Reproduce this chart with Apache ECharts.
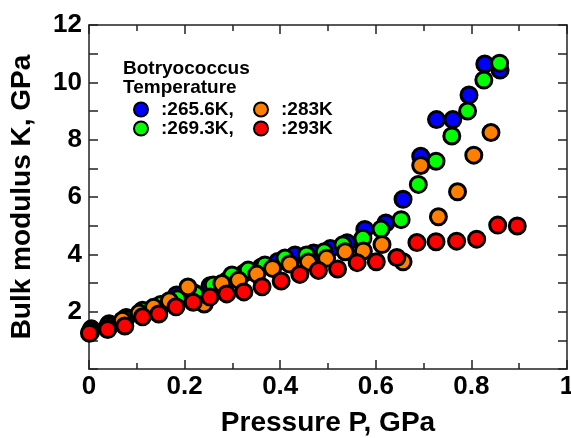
<!DOCTYPE html>
<html>
<head>
<meta charset="utf-8">
<script src="https://cdn.jsdelivr.net/npm/echarts@6/dist/echarts.min.js"></script>
<style>html,body{margin:0;padding:0;background:#fff}#c{width:571px;height:438px}</style>
</head>
<body>
<div id="c"></div>
<script>
// Data: [pressure GPa, bulk modulus GPa]
var blue2656 = [[0.005,1.40],[0.042,1.58],[0.078,1.80],[0.115,2.00],[0.150,2.20],[0.183,2.58],[0.220,2.65],[0.253,2.90],[0.290,3.10],[0.325,3.35],[0.360,3.55],[0.395,3.75],[0.431,3.98],[0.470,4.05],[0.505,4.20],[0.540,4.40],[0.577,4.87],[0.621,5.09],[0.657,5.92],[0.694,7.42],[0.727,8.70],[0.761,8.70],[0.795,9.56],[0.828,10.64],[0.860,10.43]];
var green2693 = [[0.003,1.32],[0.040,1.52],[0.077,1.75],[0.112,2.05],[0.150,2.25],[0.185,2.45],[0.222,2.62],[0.260,2.93],[0.299,3.28],[0.333,3.45],[0.368,3.63],[0.410,3.87],[0.455,3.98],[0.492,4.09],[0.531,4.33],[0.573,4.56],[0.611,4.88],[0.653,5.21],[0.689,6.44],[0.726,7.25],[0.759,8.13],[0.792,9.00],[0.826,10.08],[0.859,10.67]];
var orange283 = [[0.003,1.28],[0.040,1.42],[0.070,1.70],[0.105,1.95],[0.135,2.15],[0.168,2.38],[0.207,2.86],[0.241,2.27],[0.278,2.98],[0.313,3.10],[0.351,3.31],[0.384,3.51],[0.420,3.66],[0.459,3.73],[0.497,3.86],[0.536,4.09],[0.574,4.12],[0.613,4.34],[0.657,3.74],[0.694,7.10],[0.731,5.31],[0.771,6.18],[0.805,7.46],[0.841,8.25]];
var red293 = [[0.001,1.25],[0.039,1.38],[0.075,1.50],[0.112,1.82],[0.146,1.92],[0.182,2.17],[0.218,2.33],[0.253,2.51],[0.288,2.62],[0.324,2.69],[0.362,2.87],[0.402,3.07],[0.441,3.30],[0.480,3.44],[0.520,3.49],[0.561,3.71],[0.601,3.74],[0.644,3.89],[0.686,4.41],[0.726,4.44],[0.769,4.46],[0.811,4.53],[0.855,5.02],[0.896,4.99]];
var seriesNames = [':265.6K,', ':269.3K,', ':283K', ':293K'];
var seriesColors = ['#0000ff', '#00ff00', '#ff8000', '#ff0000'];
var legendTitle = 'Botryococcus\nTemperature';
var xTitle = 'Pressure P, GPa';
var yTitle = 'Bulk modulus K, GPa';

var FONT = 'Liberation Sans, Arial, Helvetica, sans-serif';
var chart = echarts.init(document.getElementById('c'), null, {renderer: 'canvas'});
var datasets = [blue2656, green2693, orange283, red293];
var axisCol = '#222';
function mkSeries(i) {
  return {
    name: seriesNames[i], type: 'scatter', data: datasets[i],
    symbol: 'circle', symbolSize: 16,
    itemStyle: {color: seriesColors[i], borderColor: '#000', borderWidth: 3, opacity: 1},
    emphasis: {disabled: true}, z: 2 + i
  };
}
var legendPos = [[133, 100], [133, 119], [253, 100], [253, 119]];
var legends = legendPos.map(function (p, i) {
  return {
    data: [seriesNames[i]], left: p[0], top: p[1], padding: 0,
    itemWidth: 30, itemHeight: 14, icon: 'circle',
    textStyle: {fontFamily: FONT, fontWeight: 'bold', fontSize: 19, color: '#000'},
    selectedMode: false
  };
});
var common = {
  min: 0, axisLine: {show: true, onZero: false, lineStyle: {color: axisCol, width: 1.5}},
  splitLine: {show: false}
};
chart.setOption({
  animation: false,
  backgroundColor: '#fff',
  grid: {left: 89, top: 25, right: 4, bottom: 69, containLabel: false, outerBoundsMode: 'none'},
  legend: legends,
  graphic: [{
    type: 'text', left: 123, top: 59,
    style: {text: legendTitle, font: 'bold 19px ' + FONT, fill: '#000', lineHeight: 19.5}
  }],
  xAxis: [
    Object.assign({}, common, {
      type: 'value', max: 1, interval: 0.2, position: 'bottom',
      name: xTitle, nameLocation: 'middle', nameGap: 40,
      nameTextStyle: {fontFamily: FONT, fontWeight: 'bold', fontSize: 28, color: '#000'},
      axisTick: {show: true, inside: true, length: 9, lineStyle: {color: axisCol, width: 1.5}},
      minorTick: {show: true, splitNumber: 2, length: 6, lineStyle: {color: axisCol, width: 1.5}},
      axisLabel: {fontFamily: FONT, fontWeight: 'bold', fontSize: 26, color: '#000', margin: 5,
        formatter: function (v) { return String(Math.round(v * 10) / 10); }}
    }),
    Object.assign({}, common, {
      type: 'value', max: 1, interval: 0.2, position: 'top',
      axisTick: {show: true, inside: true, length: 9, lineStyle: {color: axisCol, width: 1.5}},
      minorTick: {show: true, splitNumber: 2, length: 6, lineStyle: {color: axisCol, width: 1.5}},
      axisLabel: {show: false}
    })
  ],
  yAxis: [
    Object.assign({}, common, {
      type: 'value', max: 12, interval: 2, position: 'left',
      name: yTitle, nameLocation: 'middle', nameGap: 53, nameRotate: 90,
      nameTextStyle: {fontFamily: FONT, fontWeight: 'bold', fontSize: 28, color: '#000'},
      axisTick: {show: true, inside: true, length: 9, lineStyle: {color: axisCol, width: 1.5}},
      minorTick: {show: true, splitNumber: 2, length: 9, lineStyle: {color: axisCol, width: 1.5}},
      axisLabel: {fontFamily: FONT, fontWeight: 'bold', fontSize: 26, color: '#000', margin: 7,
        formatter: function (v) { return v === 0 ? '' : String(v); }}
    }),
    Object.assign({}, common, {
      type: 'value', max: 12, interval: 2, position: 'right',
      axisTick: {show: true, inside: true, length: 9, lineStyle: {color: axisCol, width: 1.5}},
      minorTick: {show: true, splitNumber: 2, length: 9, lineStyle: {color: axisCol, width: 1.5}},
      axisLabel: {show: false}
    })
  ],
  series: [mkSeries(0), mkSeries(1), mkSeries(2), mkSeries(3)]
});
</script>
</body>
</html>
